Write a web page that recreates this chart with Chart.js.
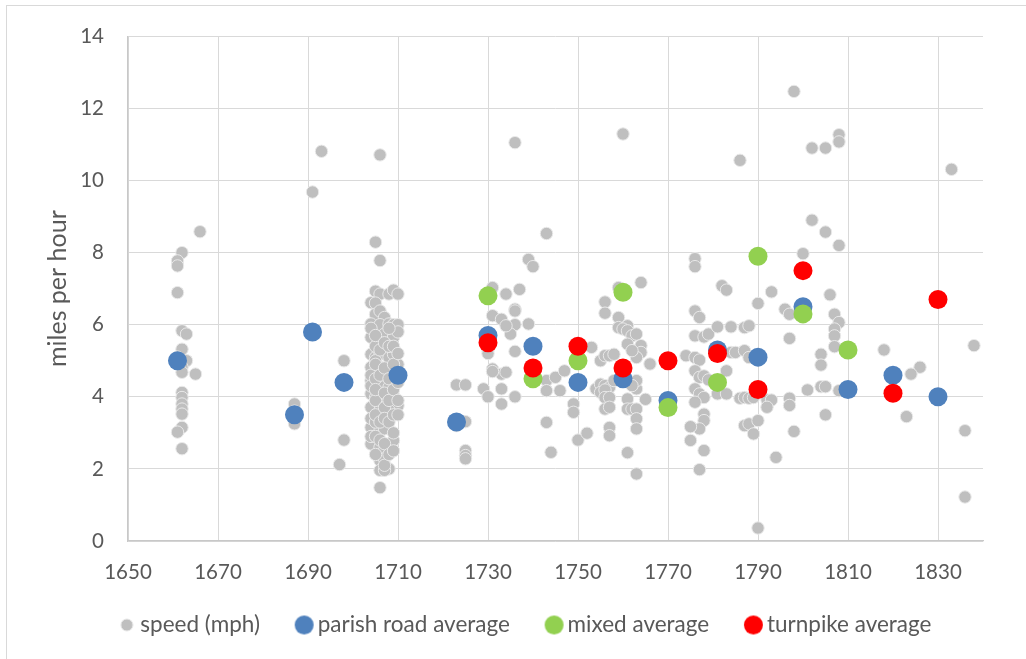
<!DOCTYPE html>
<html>
<head>
<meta charset="utf-8">
<script src="https://cdn.jsdelivr.net/npm/chart.js@4/dist/chart.umd.min.js"></script>
<style>
  html, body { margin: 0; padding: 0; background: #ffffff; overflow: hidden; }
  #wrap { position: relative; width: 1026px; height: 659px; }
  #frame { position: absolute; left: 6px; top: 5px; width: 1100px; height: 700px; border-left: 1.5px solid #d9d9d9; border-top: 1.5px solid #d9d9d9; }
  canvas { position: absolute; left: 0; top: 0; }
</style>
</head>
<body>
<div id="wrap"><div id="frame"></div><canvas id="c" width="1026" height="659"></canvas></div>
<script>
// ---- data ----
const xTickValues = [1650, 1670, 1690, 1710, 1730, 1750, 1770, 1790, 1810, 1830];
const seriesNames = ['speed (mph)', 'parish road average', 'mixed average', 'turnpike average'];

const speedPoints = [
  // 1660s
  [1662,8.0],[1661,7.77],[1661,7.63],[1661,6.89],[1666,8.58],[1662,5.83],[1663,5.74],[1662,5.32],[1663,5.0],[1662,4.82],
  [1662,4.68],[1665,4.63],[1662,4.12],[1662,3.98],[1662,3.8],[1662,3.66],[1662,3.52],[1662,3.15],[1661,3.02],[1662,2.56],[1661,5.1],
  // 1687-1698
  [1687,3.8],[1687,3.25],[1687,3.6],[1691,9.68],[1693,10.81],[1698,5.0],[1698,2.8],[1697,2.12],
  // 1704-1710
  [1706,10.71],[1705,8.29],[1706,7.78],
  [1705,6.93],[1706,6.85],[1704,6.61],[1708,6.85],[1709,6.96],[1710,6.85],[1705,6.6],
  [1705,6.29],[1706,6.38],[1707,6.2],
  [1704,6.02],[1706,6.0],[1708,6.02],[1709,6.0],[1710,6.0],
  [1704,5.65],[1706,5.55],[1707,5.74],[1709,5.65],[1710,5.8],
  [1704,5.18],[1705,5.09],[1706,5.18],[1708,5.09],[1709,5.18],
  [1704,4.82],[1706,4.82],[1708,4.72],[1710,4.9],
  [1704,4.45],[1706,4.36],[1708,4.26],[1709,4.5],
  [1704,4.08],[1706,3.98],[1705,3.98],[1707,3.98],[1709,4.03],[1710,3.75],
  [1704,3.71],[1706,3.62],[1708,3.62],
  [1704,3.15],[1706,3.06],[1707,3.11],[1709,2.79],
  [1704,2.69],[1706,2.6],[1707,2.51],
  [1706,2.23],[1707,2.28],
  [1706,1.96],[1708,2.0],[1707,1.96],
  [1706,1.48],
  [1704,5.9],[1704,4.6],[1704,4.3],[1704,3.4],[1704,2.9],[1705,5.4],[1705,5.0],[1705,3.9],[1705,3.3],[1705,5.7],
  [1705,4.9],[1705,4.5],[1705,4.2],[1705,3.5],[1705,2.9],[1705,2.4],[1706,5.3],[1706,4.6],[1706,3.3],[1706,2.8],
  [1707,5.5],[1707,4.8],[1707,4.1],[1707,3.7],[1707,3.4],[1707,2.7],[1707,2.1],[1708,5.9],[1708,5.4],[1708,4.5],
  [1708,3.9],[1708,3.3],[1708,2.4],[1709,5.4],[1709,4.9],[1709,4.2],[1709,3.5],[1709,3.0],[1709,2.5],[1710,5.2],
  [1710,4.4],[1710,3.9],[1710,3.5],
  // 1723-1753
  [1723,4.33],[1725,4.33],[1725,3.31],[1723,3.2],[1725,2.51],[1725,2.37],[1725,2.28],
  [1731,7.03],[1734,6.85],[1737,6.98],[1736,6.43],[1731,6.25],[1733,6.15],[1736,6.0],[1739,6.02],[1735,5.74],
  [1736,5.26],[1730,5.3],[1730,5.2],[1731,4.77],[1733,4.63],[1731,4.7],[1729,4.22],[1733,4.22],[1730,4.0],[1736,4.0],
  [1733,3.8],[1736,11.05],[1743,8.53],[1739,7.81],[1740,7.61],[1734,5.97],[1736,6.38],[1734,4.68],
  [1743,3.29],[1744,2.46],[1743,4.45],[1745,4.54],[1743,4.17],[1746,4.17],[1747,4.72],[1749,3.8],[1749,3.57],
  [1750,2.8],[1752,2.99],[1753,5.37],
  // 1754-1766
  [1754,4.22],[1755,4.35],[1756,4.31],[1757,4.26],[1758,4.45],[1755,5.0],[1756,5.14],[1757,5.14],[1758,5.18],
  [1755,4.12],[1756,4.19],[1756,3.98],[1757,3.98],[1756,3.66],[1757,3.71],[1757,3.15],[1757,2.92],[1756,6.63],
  [1756,6.32],[1759,7.03],[1764,7.17],[1759,6.2],[1761,5.97],[1759,5.92],[1760,5.88],[1761,5.83],[1762,5.69],
  [1763,5.74],[1764,5.42],[1764,5.23],[1763,5.09],[1761,5.46],[1762,5.28],[1766,4.91],[1765,3.93],[1763,4.22],
  [1763,4.45],[1762,4.31],[1761,3.94],[1761,3.66],[1762,3.66],[1763,3.66],[1763,3.39],[1763,3.11],[1761,2.45],
  [1763,1.86],[1760,11.29],
  // 1774-1800
  [1774,5.14],[1776,5.09],[1777,5.02],[1776,4.72],[1777,4.54],[1778,4.58],[1779,4.47],[1776,4.22],[1777,4.08],
  [1778,3.98],[1776,3.85],[1778,3.52],[1778,3.34],[1777,3.11],[1775,3.17],[1775,2.79],[1778,2.51],[1777,1.98],
  [1776,5.69],[1778,5.66],[1779,5.74],[1776,6.38],[1777,6.2],[1776,7.83],[1776,7.61],[1782,7.08],[1783,6.96],
  [1781,5.94],[1784,5.94],[1787,5.92],[1788,5.97],[1784,5.23],[1785,5.23],[1787,5.28],[1788,5.09],[1783,4.72],
  [1781,4.08],[1783,4.08],[1786,3.96],[1787,3.98],[1788,3.96],[1789,3.98],[1792,3.91],[1793,3.91],[1792,3.71],
  [1787,3.2],[1788,3.25],[1790,3.34],[1789,2.97],[1790,0.36],[1794,2.32],[1798,3.04],[1786,10.56],[1798,12.47],
  [1790,6.59],[1793,6.91],[1796,6.43],[1797,6.29],[1797,5.62],[1797,3.96],[1797,3.76],[1800,7.97],
  // 1800-1840
  [1802,10.9],[1805,10.9],[1808,11.27],[1808,11.07],[1833,10.31],[1802,8.9],[1805,8.57],[1808,8.2],[1806,6.83],
  [1807,6.29],[1808,6.06],[1807,5.88],[1807,5.69],[1807,5.39],[1804,5.18],[1804,4.88],[1801,4.19],[1804,4.28],
  [1805,4.28],[1808,4.17],[1805,3.5],[1818,5.3],[1826,4.82],[1824,4.63],[1823,3.45],[1836,3.06],[1836,1.22],[1838,5.42]
];

const parishYears = [1661, 1687, 1691, 1698, 1710, 1723, 1730, 1740, 1750, 1760, 1770, 1781, 1790, 1800, 1810, 1820, 1830];
const parishMph   = [5.0,  3.5,  5.8,  4.4,  4.6,  3.3,  5.7,  5.4,  4.4,  4.5,  3.9,  5.3,  5.1,  6.5,  4.2,  4.6,  4.0];
const mixedYears  = [1730, 1740, 1750, 1760, 1770, 1781, 1790, 1800, 1810];
const mixedMph    = [6.8,  4.5,  5.0,  6.9,  3.7,  4.4,  7.9,  6.3,  5.3];
const turnpikeYears = [1730, 1740, 1750, 1760, 1770, 1781, 1790, 1800, 1820, 1830];
const turnpikeMph   = [5.5,  4.8,  5.4,  4.8,  5.0,  5.2,  4.2,  7.5,  4.1,  6.7];

// ---- helpers ----
const zip = (xs, ys) => xs.map((x, i) => ({ x: x, y: ys[i] }));
function markerCanvas(r, fill, stroke) {
  const c = document.createElement('canvas');
  const s = Math.ceil(r * 2 + 2);
  c.width = s; c.height = s;
  const g = c.getContext('2d');
  g.beginPath(); g.arc(s / 2, s / 2, r, 0, Math.PI * 2);
  g.fillStyle = fill; g.fill();
  if (stroke) { g.lineWidth = 1; g.strokeStyle = stroke; g.stroke(); }
  return c;
}

const GRAY = '#bfbfbf', BLUE = '#4f81bd', GREEN = '#92d050', RED = '#ff0000';
const TEXT = '#595959';
const FONT = 'Lato';

const legendMarkers = [
  markerCanvas(6, GRAY, '#e6e6e6'),
  markerCanvas(9.5, BLUE),
  markerCanvas(9.5, GREEN),
  markerCanvas(9.5, RED)
];

// moves the legend row to its place under the axis labels
const legendPlace = {
  id: 'legendPlace',
  afterLayout(chart) {
    const L = chart.legend;
    if (!L) return;
    const dy = L.top - 571.75;
    L.top -= dy; L.bottom -= dy;
    L.left += 36.5; L.right += 36.5;
  }
};

new Chart(document.getElementById('c'), {
  type: 'scatter',
  plugins: [legendPlace],
  data: {
    datasets: [
      { label: seriesNames[0], data: speedPoints.map(p => ({ x: p[0], y: p[1] })), order: 3,
        pointRadius: 6.2, pointHoverRadius: 6.2, backgroundColor: GRAY, borderColor: '#e9e9e9', borderWidth: 1 },
      { label: seriesNames[1], data: zip(parishYears, parishMph), order: 2,
        pointRadius: 9.5, pointHoverRadius: 9.5, backgroundColor: BLUE, borderColor: BLUE, borderWidth: 0 },
      { label: seriesNames[2], data: zip(mixedYears, mixedMph), order: 1,
        pointRadius: 9.5, pointHoverRadius: 9.5, backgroundColor: GREEN, borderColor: GREEN, borderWidth: 0 },
      { label: seriesNames[3], data: zip(turnpikeYears, turnpikeMph), order: 0,
        pointRadius: 9.5, pointHoverRadius: 9.5, backgroundColor: RED, borderColor: RED, borderWidth: 0 }
    ]
  },
  options: {
    responsive: false,
    animation: false,
    devicePixelRatio: 1,
    layout: { padding: { left: 0, right: 43, top: 35, bottom: 0 } },
    plugins: {
      tooltip: { enabled: false },
      legend: {
        position: 'bottom',
        labels: {
          color: TEXT,
          font: { family: FONT, size: 22.5 },
          usePointStyle: true,
          boxWidth: 4.5,
          boxHeight: 22.5,
          padding: 42,
          sort: (a, b) => a.datasetIndex - b.datasetIndex,
          generateLabels: (chart) => chart.data.datasets.map((ds, i) => ({
            text: ds.label, datasetIndex: i, pointStyle: legendMarkers[i],
            fillStyle: ds.backgroundColor, strokeStyle: ds.backgroundColor, lineWidth: 0,
            fontColor: TEXT, hidden: false
          }))
        }
      }
    },
    scales: {
      x: {
        type: 'linear', min: 1650, max: 1840,
        afterBuildTicks: (s) => { s.ticks = xTickValues.map(v => ({ value: v })); },
        afterFit: (s) => { s.height = 43.5; },
        grid: { color: '#d9d9d9', lineWidth: 1, drawTicks: false },
        border: { color: '#c8c8c8', width: 1.3 },
        ticks: { color: TEXT, font: { family: FONT, size: 20.5 }, padding: 18.7, maxRotation: 0, autoSkip: false,
                 callback: (v) => String(v) }
      },
      y: {
        min: 0, max: 14,
        afterFit: (s) => { s.width = 128; },
        grid: { color: '#d9d9d9', lineWidth: 1, drawTicks: false },
        border: { color: '#c8c8c8', width: 1.3 },
        ticks: { stepSize: 2, color: TEXT, font: { family: FONT, size: 20.5 }, padding: 24 },
        title: { display: true, text: 'miles per hour', color: TEXT, font: { family: FONT, size: 25 }, padding: { top: 42.5, bottom: 0 } }
      }
    }
  }
});
</script>
</body>
</html>
